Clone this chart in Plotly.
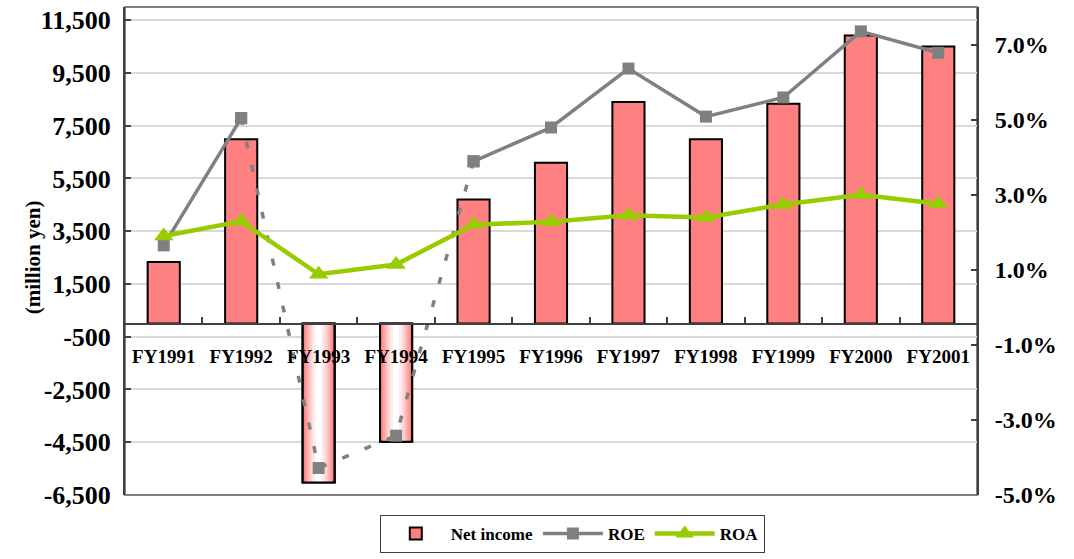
import plotly.graph_objects as go

# ---------------- data ----------------
CATEGORIES = ["FY1991", "FY1992", "FY1993", "FY1994", "FY1995", "FY1996",
              "FY1997", "FY1998", "FY1999", "FY2000", "FY2001"]
NET_INCOME = [2330, 6990, -6030, -4480, 4700, 6100, 8400, 6990, 8330, 10920, 10500]  # million yen
ROE = [1.65, 5.04, -4.28, -3.42, 3.89, 4.79, 6.36, 5.08, 5.59, 7.35, 6.78]  # %
ROA = [1.90, 2.29, 0.88, 1.14, 2.20, 2.28, 2.45, 2.39, 2.74, 3.00, 2.76]  # %

LEFT_RANGE = [-6500, 12000]
LEFT_TICKS = [-6500, -4500, -2500, -500, 1500, 3500, 5500, 7500, 9500, 11500]
LEFT_TICK_LABELS = ["-6,500", "-4,500", "-2,500", "-500", "1,500", "3,500",
                    "5,500", "7,500", "9,500", "11,500"]
RIGHT_RANGE = [-5, 8]
RIGHT_TICKS = [-5, -3, -1, 1, 3, 5, 7]
RIGHT_TICK_LABELS = ["-5.0%", "-3.0%", "-1.0%", "1.0%", "3.0%", "5.0%", "7.0%"]

Y_TITLE = "(million yen)"
SERIES_NAMES = ["Net income", "ROE", "ROA"]
DASHED_START, DASHED_END = 1, 4   # ROE drawn dashed from FY1992 to FY1995

# ---------------- style ----------------
FONT = "Liberation Serif, Times New Roman, serif"
BAR_COLOR = "#FF8080"
ROE_COLOR = "#808080"
ROA_COLOR = "#99CC00"
BAR_W = 0.415
GRAD_WIDTHS = [0.35, 0.29, 0.23, 0.16, 0.08]
GRAD_COLORS = ["#FF9C9C", "#FFB8B8", "#FFD2D2", "#FFEBEB", "#FFFFFF"]

fig = go.Figure()

# main bars
fig.add_bar(x=CATEGORIES, y=NET_INCOME, width=BAR_W, name=SERIES_NAMES[0],
            marker=dict(color=BAR_COLOR, line=dict(color="black", width=2)),
            yaxis="y")
# gradient for negative bars
neg = [v if v < 0 else None for v in NET_INCOME]
for w, c in zip(GRAD_WIDTHS, GRAD_COLORS):
    fig.add_bar(x=CATEGORIES, y=neg, width=w, showlegend=False, hoverinfo="skip",
                marker=dict(color=c, line=dict(width=0)), yaxis="y")
fig.add_bar(x=CATEGORIES, y=neg, width=BAR_W, showlegend=False, hoverinfo="skip",
            marker=dict(color="rgba(0,0,0,0)", line=dict(color="black", width=2)),
            yaxis="y")

# ROE solid part
roe_solid = [None if DASHED_START < i < DASHED_END else v for i, v in enumerate(ROE)]
fig.add_scatter(x=CATEGORIES, y=roe_solid, yaxis="y2", mode="lines+markers",
                name=SERIES_NAMES[1], connectgaps=False,
                line=dict(color=ROE_COLOR, width=3.5),
                marker=dict(symbol="square", size=12, color=ROE_COLOR))
# ROE dashed part
fig.add_scatter(x=CATEGORIES[DASHED_START:DASHED_END + 1],
                y=ROE[DASHED_START:DASHED_END + 1], yaxis="y2",
                mode="lines+markers", showlegend=False,
                line=dict(color=ROE_COLOR, width=3.5, dash="7px,17px"),
                marker=dict(symbol="square", size=12, color=ROE_COLOR))
# ROA
fig.add_scatter(x=CATEGORIES, y=ROA, yaxis="y2", mode="lines+markers",
                name=SERIES_NAMES[2],
                line=dict(color=ROA_COLOR, width=4.5),
                marker=dict(symbol="triangle-up", size=17, color=ROA_COLOR))

zero_pos = -LEFT_RANGE[0] / (LEFT_RANGE[1] - LEFT_RANGE[0])

fig.update_layout(
    width=1074, height=559,
    margin=dict(l=125, r=97, t=7, b=63),
    paper_bgcolor="white", plot_bgcolor="white",
    barmode="overlay",
    font=dict(family=FONT, color="black", weight="bold"),
    xaxis=dict(type="category", anchor="free", position=zero_pos,
               range=[-0.5, len(CATEGORIES) - 0.5],
               showline=True, linecolor="#404040", linewidth=1.5,
               ticks="inside", ticklen=6, tickcolor="#404040", tickwidth=1.5,
               tickson="boundaries", showgrid=False, zeroline=False,
               tickfont=dict(size=19, family=FONT, weight="bold"),
               ticklabelstandoff=16),
    yaxis=dict(range=LEFT_RANGE, tickvals=LEFT_TICKS, ticktext=LEFT_TICK_LABELS,
               showline=True, linecolor="#404040", linewidth=2,
               ticks="inside", ticklen=6, tickcolor="#404040", tickwidth=1.5,
               showgrid=True, gridcolor="#D9D9D9", gridwidth=1.5,
               zeroline=False,
               tickfont=dict(size=26, family=FONT, weight="bold"),
               ticklabelstandoff=7),
    yaxis2=dict(range=RIGHT_RANGE, tickvals=RIGHT_TICKS, ticktext=RIGHT_TICK_LABELS,
                overlaying="y", side="right", anchor="x",
                showline=True, linecolor="#404040", linewidth=2,
                ticks="inside", ticklen=6, tickcolor="#404040", tickwidth=1.5,
                showgrid=False, zeroline=False,
                tickfont=dict(size=24, family=FONT, weight="bold"),
                ticklabelstandoff=11),
    legend=dict(orientation="h", x=0.525, xanchor="center", y=-0.039,
                yanchor="top", bgcolor="white", bordercolor="#404040",
                borderwidth=1, font=dict(size=17, family=FONT, weight="bold"),
                traceorder="normal", itemwidth=60),
    shapes=[dict(type="rect", xref="paper", yref="paper", x0=0, x1=1, y0=0, y1=1,
                 line=dict(color="#808080", width=2), layer="below")],
    annotations=[dict(text=Y_TITLE, xref="paper", yref="paper",
                      x=(19 - 125) / 852, y=0.487, textangle=-90,
                      showarrow=False, font=dict(size=21, family=FONT, weight="bold"))],
)

fig.write_html("out.html", config={"displayModeBar": False},
               post_script="document.body.style.margin='0';")
